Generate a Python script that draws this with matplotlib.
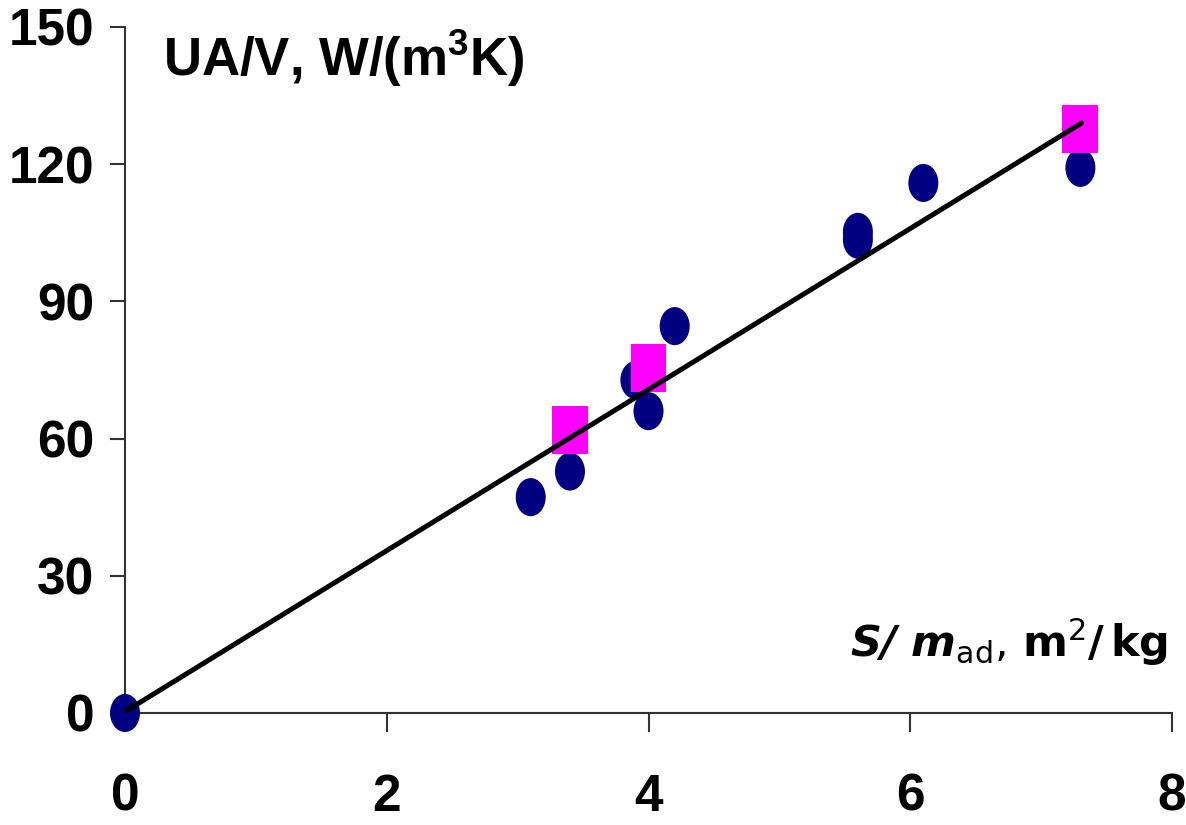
import matplotlib
matplotlib.use("Agg")
import matplotlib.pyplot as plt
from matplotlib.markers import MarkerStyle
from matplotlib.transforms import Affine2D

# ---- data ----
circle_x = [0.0, 3.1, 3.4, 3.9, 4.0, 4.2, 5.6, 5.6, 6.1, 7.3]
circle_y = [0.0, 47.2, 52.8, 72.8, 66.0, 84.6, 103.5, 105.2, 115.9, 119.2]
square_x = [3.4, 4.0, 7.3]
square_y = [61.9, 75.4, 127.7]
fit_x = [0.0, 7.31]
fit_y = [0.3, 129.0]
x_ticks = [0, 2, 4, 6, 8]
y_ticks = [0, 30, 60, 90, 120, 150]

plt.rcParams['mathtext.fontset'] = 'custom'
plt.rcParams['mathtext.rm'] = 'DejaVu Sans'
plt.rcParams['mathtext.it'] = 'DejaVu Sans:italic'
plt.rcParams['mathtext.bf'] = 'DejaVu Sans:bold'
try:
    plt.rcParams['mathtext.bfit'] = 'DejaVu Sans:italic:bold'
    has_bfit = True
except KeyError:
    has_bfit = False

fig = plt.figure(figsize=(11.86, 8.25), dpi=100)
ax = fig.add_axes([125/1186, 1-713/825, (1172-125)/1186, (713-27)/825])
ax.set_xlim(0, 8)
ax.set_ylim(0, 150)

ell = MarkerStyle('o', transform=Affine2D().scale(1, 1.27))
sq = MarkerStyle('s', transform=Affine2D().scale(1, 1.33))
ax.scatter(circle_x, circle_y, marker=ell, s=21.6**2, color='#000080',
           edgecolors='none', zorder=3, clip_on=False)
ax.scatter(square_x, square_y, marker=sq, s=25.9**2, color='#FF00FF',
           edgecolors='none', zorder=4, clip_on=False)
ax.plot(fit_x, fit_y, color='black', lw=3.6, zorder=5, solid_capstyle='round')

for s in ['top', 'right']:
    ax.spines[s].set_visible(False)
for s in ['left', 'bottom']:
    ax.spines[s].set_color('#333333')
    ax.spines[s].set_linewidth(1.5)

ax.set_xticks(x_ticks)
ax.set_yticks(y_ticks)
ax.tick_params(axis='x', direction='out', length=14, width=1.5, color='#333333', pad=29)
ax.tick_params(axis='y', direction='out', length=11, width=1.5, color='#333333', pad=11)
for lab in ax.get_xticklabels() + ax.get_yticklabels():
    lab.set_family('Liberation Sans')
    lab.set_fontweight('bold')
    lab.set_fontsize(37)

fig.text(163/1186, 1-76/825, 'UA/V, W/(m$^{\\mathregular{3}}$K)', fontsize=38,
         fontweight='bold', family='Liberation Sans', ha='left', va='baseline')

if has_bfit:
    xl = r'$\mathbfit{S/\ m}_{\mathrm{ad}}\mathit{,}\ \mathbf{m}^{\mathrm{2}}\mathbf{/\,kg}$'
else:
    xl = r'$\mathbf{S/\ m}_{\mathrm{ad}}\mathit{,}\ \mathbf{m}^{\mathrm{2}}\mathbf{/\,kg}$'
fig.text(1168/1186, 1-657/825, xl, fontsize=31, ha='right', va='baseline')

fig.savefig('out.png', dpi=100, facecolor='white')
